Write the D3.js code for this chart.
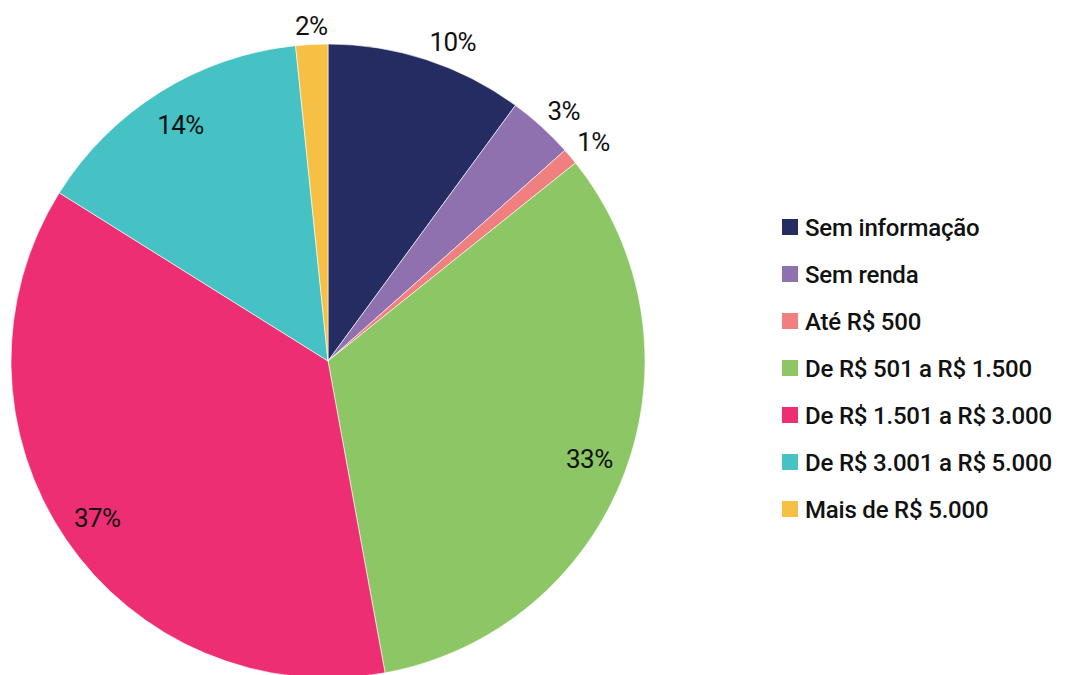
<!DOCTYPE html>
<html>
<head>
<meta charset="utf-8">
<script src="https://cdn.jsdelivr.net/npm/d3@7"></script>
<style>
  html, body { margin: 0; padding: 0; background: #ffffff; }
  svg { display: block; }
  text { font-family: Roboto, "Noto Sans", sans-serif; fill: #111111; }
</style>
</head>
<body>
<svg id="chart" width="1067" height="675"></svg>
<script>
// Income bands and their share of respondents (%)
const categories = [
  "Sem informação",
  "Sem renda",
  "Até R$ 500",
  "De R$ 501 a R$ 1.500",
  "De R$ 1.501 a R$ 3.000",
  "De R$ 3.001 a R$ 5.000",
  "Mais de R$ 5.000"
];
const shares = [10.07, 3.36, 0.83, 32.86, 36.78, 14.47, 1.63];
const colors = ["#242c62", "#8f71af", "#f07f80", "#8cc665", "#ee2e72", "#46c1c4", "#f5c043"];

const width = 1067, height = 675;
const cx = 328, cy = 361, radius = 317;

const svg = d3.select("#chart");

const data = categories.map((c, i) => ({ category: c, value: shares[i], color: colors[i] }));

const pie = d3.pie().sort(null).value(d => d.value);
const arcs = pie(data);
const arc = d3.arc().innerRadius(0).outerRadius(radius);

const g = svg.append("g").attr("transform", `translate(${cx},${cy})`);

g.selectAll("path.slice")
  .data(arcs)
  .join("path")
  .attr("class", "slice")
  .attr("d", arc)
  .attr("fill", d => d.data.color)
  .attr("stroke", "#ffffff")
  .attr("stroke-width", 0.6);

// Percentage labels: large slices inside, small slices just outside the rim
const fmt = v => `${Math.round(v)}%`;
const innerLabelR = 279, outerLabelR = 326;

g.selectAll("text.pct")
  .data(arcs)
  .join("text")
  .attr("class", "pct")
  .style("font-size", "26px")
  .style("letter-spacing", "-0.6px")
  .each(function (d) {
    const mid = (d.startAngle + d.endAngle) / 2;
    const s = Math.sin(mid), c = Math.cos(mid);
    const t = d3.select(this).text(fmt(d.data.value));
    if (d.data.value >= 12) {
      t.attr("x", innerLabelR * s)
       .attr("y", -innerLabelR * c)
       .attr("text-anchor", "middle")
       .attr("dy", "0.36em");
    } else {
      const anchor = s > 0.1 ? "start" : (s < -0.1 ? "end" : "middle");
      t.attr("x", outerLabelR * s)
       .attr("y", -outerLabelR * c)
       .attr("text-anchor", anchor)
       .attr("dy", c > 0 ? "0em" : "0.72em");
    }
  });

// Legend
const legendX = 782, legendY0 = 227, legendStep = 47, sw = 16;
const legend = svg.append("g").attr("class", "legend");
const items = legend.selectAll("g.item")
  .data(data)
  .join("g")
  .attr("class", "item")
  .attr("transform", (d, i) => `translate(${legendX},${legendY0 + i * legendStep})`);

items.append("rect")
  .attr("x", 0)
  .attr("y", -sw / 2)
  .attr("width", sw)
  .attr("height", sw)
  .attr("fill", d => d.color);

items.append("text")
  .attr("x", 23)
  .attr("y", 0)
  .attr("dy", "0.36em")
  .style("font-size", "24px")
  .style("font-weight", 500)
  .style("letter-spacing", "-0.2px")
  .text(d => d.category);
</script>
</body>
</html>
